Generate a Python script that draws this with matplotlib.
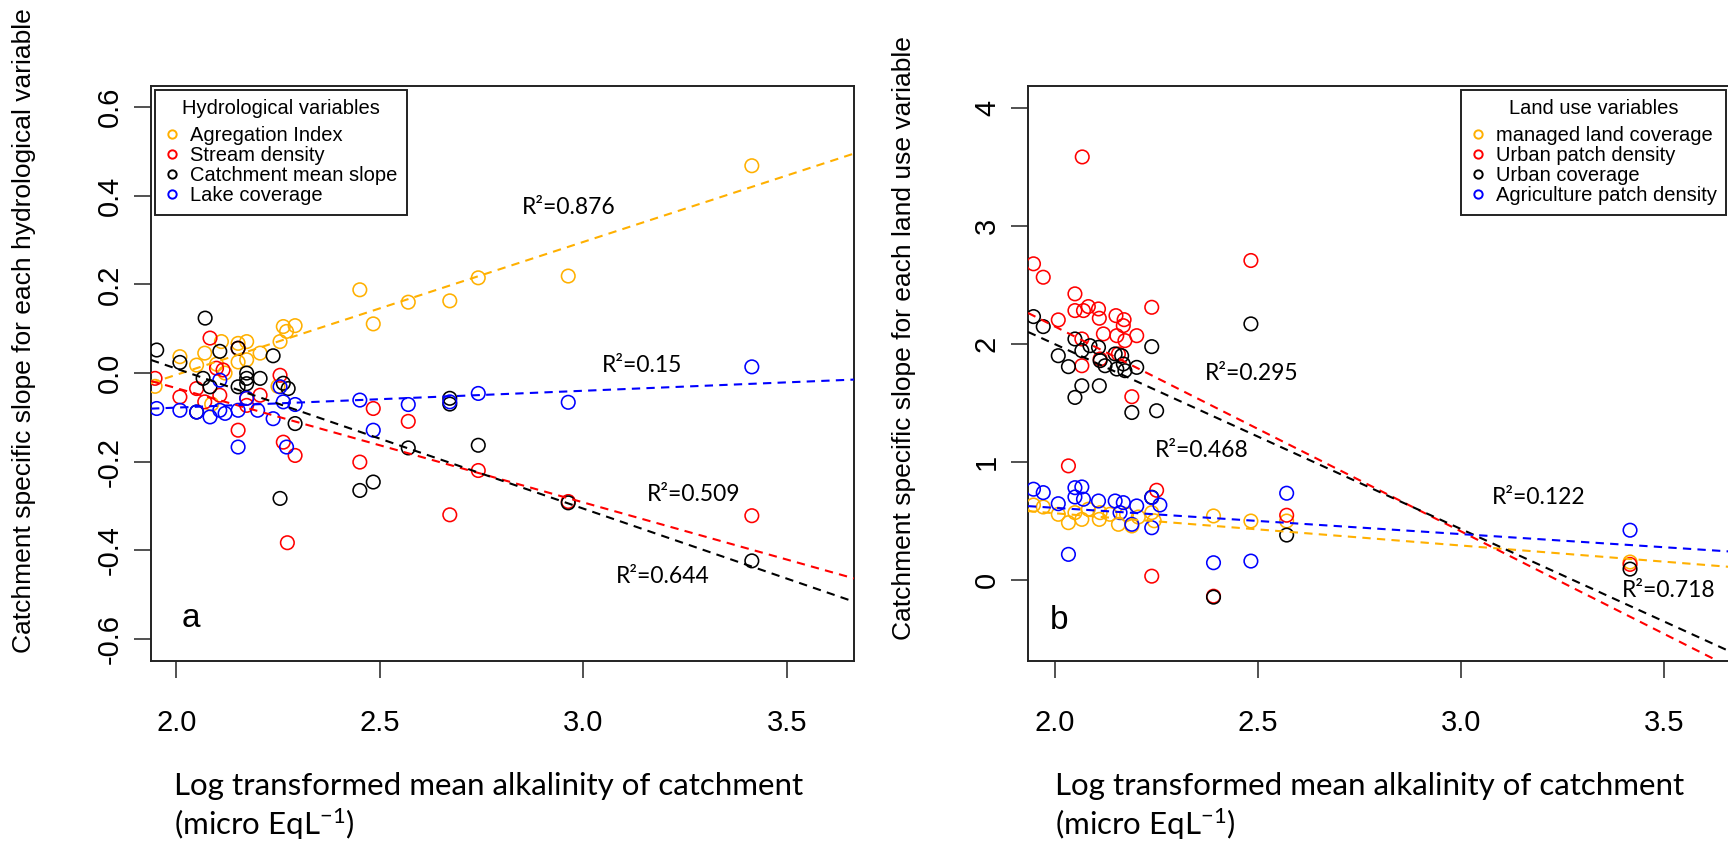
import matplotlib
matplotlib.use('Agg')
import matplotlib.pyplot as plt
from matplotlib.lines import Line2D
from matplotlib import font_manager as fm

# ---------------- data ----------------
# Panel a : hydrological variables
a_names = ['Agregation Index', 'Stream density', 'Catchment mean slope', 'Lake coverage']
a_colors = ['#FFB000', '#FF0000', '#000000', '#0000FF']

agg_x = [1.948, 2.009, 2.05, 2.07, 2.087, 2.099, 2.111, 2.12, 2.152, 2.152, 2.173, 2.173,
         2.206, 2.25, 2.255, 2.263, 2.271, 2.292, 2.451, 2.484, 2.570, 2.672, 2.742, 2.963, 3.414]
agg_y = [-0.03, 0.037, 0.018, 0.045, -0.07, 0.02, 0.071, 0.0, 0.067, 0.025, 0.071, 0.03,
         0.045, -0.03, 0.071, 0.105, 0.094, 0.107, 0.188, 0.111, 0.16, 0.163, 0.215, 0.219, 0.468]

str_x = [1.948, 2.009, 2.05, 2.07, 2.083, 2.099, 2.107, 2.115, 2.152, 2.152, 2.173, 2.173,
         2.206, 2.255, 2.263, 2.273, 2.292, 2.451, 2.484, 2.570, 2.672, 2.742, 2.963, 3.414]
str_y = [-0.012, -0.054, -0.035, -0.065, 0.079, 0.011, -0.05, 0.007, 0.056, -0.129, -0.057, -0.073,
         -0.05, -0.005, -0.156, -0.383, -0.186, -0.201, -0.08, -0.109, -0.32, -0.22, -0.29, -0.322]

slp_x = [1.952, 2.009, 2.05, 2.066, 2.071, 2.083, 2.107, 2.152, 2.152, 2.173, 2.173, 2.173,
         2.206, 2.238, 2.263, 2.275, 2.255, 2.292, 2.451, 2.484, 2.570, 2.672, 2.672, 2.742, 2.963, 3.414]
slp_y = [0.052, 0.024, -0.088, -0.012, 0.124, -0.031, 0.049, 0.056, -0.031, 0.0, -0.012, -0.024,
         -0.012, 0.039, -0.023, -0.035, -0.283, -0.114, -0.265, -0.246, -0.169, -0.057, -0.07, -0.163, -0.293, -0.424]

lake_x = [1.952, 2.009, 2.05, 2.083, 2.107, 2.107, 2.12, 2.152, 2.152, 2.173, 2.2, 2.238,
          2.255, 2.263, 2.271, 2.292, 2.451, 2.484, 2.570, 2.672, 2.742, 2.963, 3.414]
lake_y = [-0.08, -0.084, -0.088, -0.099, -0.084, -0.016, -0.091, -0.084, -0.167, -0.057, -0.084, -0.103,
          -0.031, -0.065, -0.167, -0.071, -0.061, -0.129, -0.071, -0.065, -0.046, -0.066, 0.014]

a_intercepts = [-0.604, 0.482, 0.642, -0.154]
a_slopes = [0.300, -0.258, -0.316, 0.038]
a_r2_text = ['R²=0.876', 'R²=0.15', 'R²=0.509', 'R²=0.644']
a_r2_x = [2.849, 3.045, 3.157, 3.080]
a_r2_y = [0.373, 0.018, -0.275, -0.460]

# Panel b : land use variables
b_names = ['managed land coverage', 'Urban patch density', 'Urban coverage', 'Agriculture patch density']
b_colors = ['#FFB000', '#FF0000', '#000000', '#0000FF']

man_x = [1.948, 1.972, 2.009, 2.034, 2.05, 2.067, 2.083, 2.112, 2.110, 2.136, 2.157, 2.177,
         2.19, 2.206, 2.239, 2.245, 2.391, 2.483, 2.571, 3.416]
man_y = [0.634, 0.617, 0.555, 0.484, 0.569, 0.512, 0.598, 0.569, 0.512, 0.555, 0.47, 0.555,
         0.456, 0.532, 0.569, 0.50, 0.541, 0.498, 0.498, 0.15]

upd_x = [1.948, 1.972, 2.009, 2.05, 2.05, 2.068, 2.071, 2.083, 2.108, 2.110, 2.151, 2.171,
         2.169, 2.239, 2.120, 2.153, 2.173, 2.202, 2.067, 2.112, 2.157, 2.067, 2.19, 2.483,
         2.034, 2.251, 2.571, 2.239, 2.391, 3.416]
upd_y = [2.681, 2.567, 2.205, 2.426, 2.284, 3.588, 2.284, 2.318, 2.298, 2.219, 2.241, 2.207,
         2.156, 2.312, 2.086, 2.071, 2.029, 2.071, 2.043, 1.873, 1.916, 1.816, 1.553, 2.709,
         0.966, 0.759, 0.547, 0.03, -0.14, 0.13]

urb_x = [1.948, 1.972, 2.483, 2.05, 2.009, 2.034, 2.067, 2.087, 2.108, 2.112, 2.124, 2.149,
         2.165, 2.169, 2.153, 2.173, 2.202, 2.239, 2.067, 2.110, 2.05, 2.19, 2.251, 2.239,
         2.571, 2.391, 3.416]
urb_y = [2.233, 2.148, 2.171, 2.043, 1.901, 1.808, 1.944, 1.986, 1.972, 1.859, 1.816, 1.916,
         1.901, 1.831, 1.788, 1.774, 1.802, 1.978, 1.646, 1.646, 1.547, 1.419, 1.434, 0.70,
         0.379, -0.148, 0.09]

agr_x = [1.948, 1.972, 2.009, 2.05, 2.067, 2.05, 2.071, 2.108, 2.149, 2.169, 2.202, 2.239,
         2.259, 2.19, 2.239, 2.161, 2.034, 2.391, 2.483, 2.571, 3.416]
agr_y = [0.768, 0.739, 0.645, 0.781, 0.787, 0.702, 0.683, 0.668, 0.668, 0.654, 0.626, 0.697,
         0.634, 0.47, 0.441, 0.569, 0.215, 0.144, 0.158, 0.734, 0.42]

b_intercepts = [1.112, 5.63, 5.14, 1.056]
b_slopes = [-0.274, -1.74, -1.57, -0.223]
b_r2_text = ['R²=0.295', 'R²=0.468', 'R²=0.122', 'R²=0.718']
b_r2_x = [2.370, 2.247, 3.076, 3.397]
b_r2_y = [1.751, 1.094, 0.70, -0.09]

x_ticks = [2.0, 2.5, 3.0, 3.5]
a_yticks = [-0.6, -0.4, -0.2, 0.0, 0.2, 0.4, 0.6]
b_yticks = [0, 1, 2, 3, 4]

# ---------------- fonts ----------------
def has_font(name):
    try:
        fm.findfont(fm.FontProperties(family=name), fallback_to_default=False)
        return True
    except Exception:
        return False

RFONT = 'Liberation Sans'
CAL = 'Lato' if has_font('Lato') else 'DejaVu Sans'
plt.rcParams['font.family'] = [RFONT, 'DejaVu Sans']
plt.rcParams['mathtext.fontset'] = 'custom'
plt.rcParams['mathtext.rm'] = CAL
plt.rcParams['mathtext.it'] = CAL
plt.rcParams['mathtext.bf'] = CAL

W, H = 1728, 843
fig = plt.figure(figsize=(W / 100, H / 100), dpi=100)

def ax_rect(l, r, t, b):
    return [l / W, 1 - b / H, (r - l) / W, (b - t) / H]

axa = fig.add_axes(ax_rect(151, 854, 86, 661))
axb = fig.add_axes(ax_rect(1028, 1730, 86, 661))

EDGE = '#222222'

def style(ax, yticks, ylabels, ylim, xlim):
    ax.set_xlim(*xlim)
    ax.set_ylim(*ylim)
    ax.set_xticks(x_ticks)
    ax.set_xticklabels(['%.1f' % v for v in x_ticks])
    ax.set_yticks(yticks)
    ax.set_yticklabels(ylabels)
    for s in ax.spines.values():
        s.set_linewidth(1.4)
        s.set_color(EDGE)
    ax.tick_params(axis='both', direction='out', length=12.5, width=1.1, color=EDGE,
                   labelsize=21, top=False, right=False)
    ax.tick_params(axis='x', pad=22)
    ax.tick_params(axis='y', labelrotation=90, pad=7)
    for lbl in ax.get_yticklabels():
        lbl.set_va('center')

style(axa, a_yticks, ['%.1f' % v for v in a_yticks], (-0.65, 0.648), (1.938, 3.665))
style(axb, b_yticks, [str(v) for v in b_yticks], (-0.69, 4.19), (1.9345, 3.662))

MS = 95
LW = 1.15
a_series = [(agg_x, agg_y), (str_x, str_y), (slp_x, slp_y), (lake_x, lake_y)]
for (xs, ys), c in zip(a_series, a_colors):
    axa.scatter(xs, ys, s=MS, facecolors='none', edgecolors=c, linewidths=LW, zorder=3)
for b0, m, c in zip(a_intercepts, a_slopes, a_colors):
    axa.axline((0, b0), slope=m, color=c, lw=1.5, ls=(0, (4, 3)), zorder=4)

b_series = [(man_x, man_y), (upd_x, upd_y), (urb_x, urb_y), (agr_x, agr_y)]
for (xs, ys), c in zip(b_series, b_colors):
    axb.scatter(xs, ys, s=MS, facecolors='none', edgecolors=c, linewidths=LW, zorder=3)
for b0, m, c in zip(b_intercepts, b_slopes, b_colors):
    axb.axline((0, b0), slope=m, color=c, lw=1.5, ls=(0, (4, 3)), zorder=4)

# legends
def make_legend(ax, names, colors, title, loc, anchor):
    handles = [Line2D([], [], ls='none', marker='o', markersize=6, mfc='none', mec=c, mew=1.4)
               for c in colors]
    leg = ax.legend(handles, names, title=title, loc=loc, bbox_to_anchor=anchor,
                    bbox_transform=ax.transAxes, borderaxespad=0, frameon=True, fancybox=False,
                    edgecolor=EDGE, framealpha=1, fontsize=14.5, title_fontsize=14.5,
                    handlelength=0.8, handletextpad=0.5, borderpad=0.45, labelspacing=0.05)
    leg.get_frame().set_linewidth(1.4)
    leg._legend_box.sep = 6
    leg.set_zorder(6)
    return leg

make_legend(axa, a_names, a_colors, 'Hydrological variables', 'upper left', (0.0057, 0.993))
make_legend(axb, b_names, b_colors, 'Land use variables', 'upper right', (0.9946, 0.993))

# panel letters
axa.text(2.013, -0.555, 'a', fontsize=24, ha='left', va='center', family=RFONT)
axb.text(1.989, -0.347, 'b', fontsize=24, ha='left', va='center', family=RFONT)

# R2 labels (Calibri-like font)
r2_texts = []
for t, x, y in zip(a_r2_text, a_r2_x, a_r2_y):
    r2_texts.append(axa.text(x, y, t, fontsize=14, ha='left', va='center',
                             family=[CAL, 'DejaVu Sans'], zorder=5))
for t, x, y in zip(b_r2_text, b_r2_x, b_r2_y):
    r2_texts.append(axb.text(x, y, t, fontsize=14, ha='left', va='center',
                             family=[CAL, 'DejaVu Sans'], zorder=5))

# axis labels
fig.text(24 / W, 1 - 331 / H, 'Catchment specific slope for each hydrological variable',
         rotation=90, ha='center', va='center', fontsize=19, family=RFONT)
fig.text(904 / W, 1 - 338 / H, 'Catchment specific slope for each land use variable',
         rotation=90, ha='center', va='center', fontsize=19, family=RFONT)

xl_lines = []
for x0 in (174, 1055):
    t1 = fig.text(x0 / W, 1 - 786 / H, 'Log transformed mean alkalinity of catchment',
                  ha='left', va='center', fontsize=20, family=CAL)
    t2 = fig.text(x0 / W, 1 - 824 / H, r'(micro EqL$^{-1}$)',
                  ha='left', va='center', fontsize=20, family=CAL)
    xl_lines.append((t1, t2))

# size Calibri-substitute texts to the widths measured on the reference
renderer = fig.canvas.get_renderer()
w = xl_lines[0][0].get_window_extent(renderer).width
fs = 20 * 630 / w
for t1, t2 in xl_lines:
    t1.set_fontsize(fs)
    t2.set_fontsize(fs)
w = r2_texts[0].get_window_extent(renderer).width
fs2 = 14 * 94 / w
for t in r2_texts:
    t.set_fontsize(fs2)

fig.savefig('out.png', dpi=100)
